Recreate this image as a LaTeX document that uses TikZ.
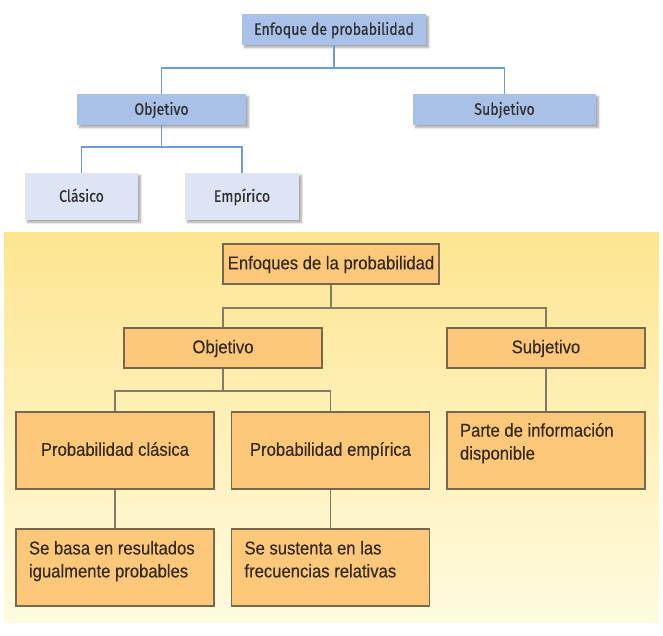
\documentclass[tikz,border=0pt]{standalone}
\usepackage{fontspec}
\setmainfont{Liberation Sans}
\newfontfamily\upfont[FakeStretch=0.86, FakeBold=0.4]{Fira Sans}
\newfontfamily\lowfont[FakeStretch=0.9, FakeBold=0.25]{Liberation Sans}
\usetikzlibrary{shadows.blur}
\definecolor{ublue}{HTML}{A9C0E8}
\definecolor{ulight}{HTML}{DDE4F4}
\definecolor{uline}{HTML}{6E9AD6}
\definecolor{utext}{HTML}{2E2E2E}
\definecolor{lfill}{HTML}{FEC87B}
\definecolor{ledge}{HTML}{76674F}
\definecolor{lline}{HTML}{857A66}
\definecolor{ltext}{HTML}{33291D}
\definecolor{bgtop}{HTML}{FDE590}
\definecolor{bgbot}{HTML}{FFFBDF}
\tikzset{
  ubox/.style={draw=none, fill=ublue, inner sep=0pt, font=\upfont\fontsize{16.5}{19}\selectfont, text=utext,
     text height=2ex, text depth=0pt,
     blur shadow={shadow xshift=2.5pt, shadow yshift=-2.5pt, shadow blur steps=6, shadow opacity=35}},
  uleaf/.style={ubox, fill=ulight},
  ucon/.style={draw=uline, line width=1.4pt},
  lbox/.style={draw=ledge, line width=1.2pt, fill=lfill, inner sep=0pt, font=\lowfont\fontsize{18.5}{23}\selectfont, text=ltext},
  lone/.style={lbox, text height=2ex, text depth=0pt},
  lcon/.style={draw=lline, line width=1.5pt},
}
\begin{document}
\begin{tikzpicture}[x=1pt, y=-1pt]
\useasboundingbox (0,0) rectangle (663,636);
% background panel
\shade[top color=bgtop, bottom color=bgbot] (4,232) rectangle (659,622);
% upper diagram
\node[ubox, minimum width=184pt, minimum height=31pt] (e1) at (334,29.5) {Enfoque de probabilidad};
\node[ubox, minimum width=169pt, minimum height=31pt] (o1) at (161.5,109.5) {Objetivo};
\node[ubox, minimum width=183pt, minimum height=31pt] (s1) at (504.5,109.5) {Subjetivo};
\node[uleaf, minimum width=113pt, minimum height=47pt] (c1) at (81.5,196.5) {Clásico};
\node[uleaf, minimum width=114pt, minimum height=47pt] (m1) at (242,196.5) {Empírico};
\coordinate (h1) at (0,68);
\coordinate (h2) at (0,147);
\draw[ucon] (e1.south) -- (e1.south |- h1);
\draw[ucon] (o1.north) -- (o1.north |- h1) -- (s1.north |- h1) -- (s1.north);
\draw[ucon] (o1.south) -- (o1.south |- h2);
\draw[ucon] (c1.north) -- (c1.north |- h2) -- (m1.north |- h2) -- (m1.north);
% lower diagram
\node[lone, minimum width=216pt, minimum height=40pt] (e2) at (331,264) {Enfoques de la probabilidad};
\node[lone, minimum width=198pt, minimum height=40pt] (o2) at (223,348) {Objetivo};
\node[lone, minimum width=198pt, minimum height=40pt] (s2) at (546,348) {Subjetivo};
\node[lone, minimum width=198pt, minimum height=77pt] (pc) at (115,450.5) {Probabilidad clásica};
\node[lone, minimum width=198pt, minimum height=77pt] (pe) at (330.5,450.5) {Probabilidad empírica};
\node[lbox, minimum width=198pt, minimum height=77pt] (pi) at (546,450.5)
  {\parbox[c][55pt][t]{172pt}{\raggedright Parte de información\\disponible}};
\node[lbox, minimum width=198pt, minimum height=77pt] (sb) at (115,567.5)
  {\parbox[c][53pt][t]{172pt}{\raggedright Se basa en resultados\\igualmente probables}};
\node[lbox, minimum width=198pt, minimum height=77pt] (ss) at (330.5,567.5)
  {\parbox[c][53pt][t]{172pt}{\raggedright Se sustenta en las\\frecuencias relativas}};
\coordinate (h3) at (0,308);
\coordinate (h4) at (0,391);
\draw[lcon] (e2.south) -- (e2.south |- h3);
\draw[lcon] (o2.north) -- (o2.north |- h3) -- (s2.north |- h3) -- (s2.north);
\draw[lcon] (o2.south) -- (o2.south |- h4);
\draw[lcon] (pc.north) -- (pc.north |- h4) -- (pe.north |- h4) -- (pe.north);
\draw[lcon] (pc.south) -- (sb.north);
\draw[lcon] (pe.south) -- (ss.north);
\draw[lcon] (s2.south) -- (pi.north);
\end{tikzpicture}
\end{document}
